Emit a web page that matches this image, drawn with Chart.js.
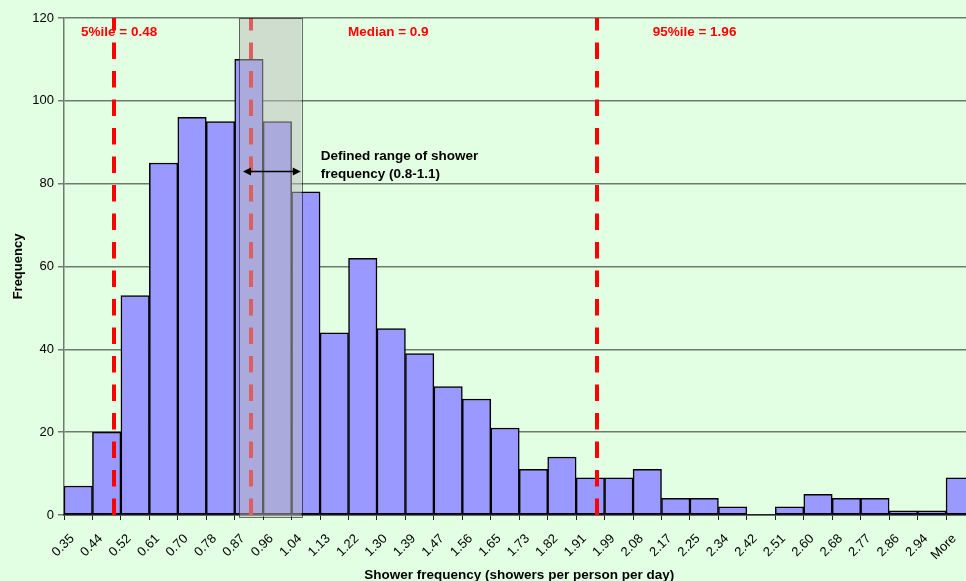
<!DOCTYPE html>
<html>
<head>
<meta charset="utf-8">
<script src="https://cdn.jsdelivr.net/npm/chart.js@4"></script>
<style>
  html, body { margin: 0; padding: 0; overflow: hidden; background: #E3FFE3; }
  #wrap { width: 976px; height: 581px; }
</style>
</head>
<body>
<div id="wrap"><canvas id="hist"></canvas></div>
<script>
// Histogram bins (upper bin labels) and counts
const binLabels = [
  "0.35", "0.44", "0.52", "0.61", "0.70", "0.78", "0.87", "0.96", "1.04", "1.13",
  "1.22", "1.30", "1.39", "1.47", "1.56", "1.65", "1.73", "1.82", "1.91", "1.99",
  "2.08", "2.17", "2.25", "2.34", "2.42", "2.51", "2.60", "2.68", "2.77", "2.86",
  "2.94", "More"
];
const frequencies = [
  7, 20, 53, 85, 96, 95, 110, 95, 78, 44,
  62, 45, 39, 31, 28, 21, 11, 14, 9, 9,
  11, 4, 4, 2, 0, 2, 5, 4, 4, 1,
  1, 9
];
const yTicks = [0, 20, 40, 60, 80, 100, 120];

// Annotation positions: x in bin-edge units (0 = left edge of first bin), y in frequency
const percentileLines = [
  { label: "5%ile = 0.48", at: 1.76, textAt: 0.6 },
  { label: "Median = 0.9", at: 6.57, textAt: 9.98 },
  { label: "95%ile = 1.96", at: 18.73, textAt: 20.69 }
];
const labelY = 116.6;
const rangeBox = { from: 6.15, to: 8.35 };
const rangeArrow = { from: 6.29, to: 8.32, y: 83.1 };
const rangeText = ["Defined range of shower", "frequency (0.8-1.1)"];
const rangeTextPos = { at: 9.02, y1: 86.7, y2: 82.3 };

const FONT = "'Liberation Sans', Arial, sans-serif";

const annotations = {
  id: "annotations",
  afterDatasetsDraw(chart) {
    const ctx = chart.ctx;
    const x = chart.scales.x;
    const y = chart.scales.y;
    const xAt = (u) => x.getPixelForValue(u - 0.5);
    const bottom = y.getPixelForValue(0);
    const top = y.getPixelForValue(120);

    ctx.save();
    // dashed percentile lines, drawn from the axis upwards
    ctx.strokeStyle = "#FF0000";
    ctx.lineWidth = 4;
    ctx.setLineDash([16.5, 12]);
    percentileLines.forEach((p) => {
      const px = Math.round(xAt(p.at));
      ctx.beginPath();
      ctx.moveTo(px, bottom);
      ctx.lineTo(px, top);
      ctx.stroke();
    });
    ctx.setLineDash([]);

    // shaded defined range box
    const bx1 = xAt(rangeBox.from);
    const bx2 = xAt(rangeBox.to);
    const by1 = top;
    const by2 = y.getPixelForValue(-0.5);
    ctx.fillStyle = "rgba(188,188,188,0.5)";
    ctx.fillRect(bx1, by1, bx2 - bx1, by2 - by1);
    ctx.strokeStyle = "rgba(0,0,0,0.55)";
    ctx.lineWidth = 1;
    ctx.strokeRect(Math.round(bx1) + 0.5, Math.round(by1) + 0.5, Math.round(bx2 - bx1), Math.round(by2 - by1));

    // double headed arrow
    const ax1 = xAt(rangeArrow.from);
    const ax2 = xAt(rangeArrow.to);
    const ay = Math.round(y.getPixelForValue(rangeArrow.y)) + 0.5;
    ctx.strokeStyle = "#000";
    ctx.fillStyle = "#000";
    ctx.lineWidth = 1.4;
    ctx.beginPath();
    ctx.moveTo(ax1 + 4, ay);
    ctx.lineTo(ax2 - 4, ay);
    ctx.stroke();
    ctx.beginPath();
    ctx.moveTo(ax1, ay);
    ctx.lineTo(ax1 + 8, ay - 4);
    ctx.lineTo(ax1 + 8, ay + 4);
    ctx.closePath();
    ctx.fill();
    ctx.beginPath();
    ctx.moveTo(ax2, ay);
    ctx.lineTo(ax2 - 8, ay - 4);
    ctx.lineTo(ax2 - 8, ay + 4);
    ctx.closePath();
    ctx.fill();

    // texts
    ctx.font = "bold 13.5px " + FONT;
    ctx.textAlign = "left";
    ctx.textBaseline = "middle";
    ctx.fillStyle = "#FF0000";
    percentileLines.forEach((p) => {
      ctx.fillText(p.label, xAt(p.textAt), y.getPixelForValue(labelY));
    });
    ctx.fillStyle = "#000";
    ctx.fillText(rangeText[0], xAt(rangeTextPos.at), y.getPixelForValue(rangeTextPos.y1));
    ctx.fillText(rangeText[1], xAt(rangeTextPos.at), y.getPixelForValue(rangeTextPos.y2));
    ctx.restore();
  }
};

const ctx = document.getElementById("hist").getContext("2d");
new Chart(ctx, {
  type: "bar",
  data: {
    labels: binLabels,
    datasets: [
      {
        label: "Frequency",
        data: frequencies,
        backgroundColor: "#9999FF",
        borderColor: "#000000",
        borderWidth: 1.5,
        borderSkipped: false,
        barPercentage: 1,
        categoryPercentage: 1,
      },
    ],
  },
  options: {
    responsive: true,
    maintainAspectRatio: false,
    animation: false,
    layout: { padding: { top: 18, left: 0, right: 1.5, bottom: 0 } },
    plugins: { legend: { display: false }, tooltip: { enabled: false } },
    scales: {
      y: {
        min: 0,
        max: 120,
        afterBuildTicks: (scale) => {
          scale.ticks = yTicks.map((v) => ({ value: v }));
        },
        afterFit: (scale) => { scale.width = 64; },
        ticks: { color: "#000", font: { family: FONT, size: 13 }, padding: 4 },
        grid: { color: "#6f7a6f", lineWidth: 1.5, tickLength: 6 },
        border: { color: "#6f7a6f", width: 1.5 },
        title: {
          display: true,
          text: "Frequency",
          color: "#000",
          font: { family: FONT, size: 13, weight: "bold" },
          padding: { top: 11, bottom: 0 },
        },
      },
      x: {
        offset: true,
        afterFit: (scale) => {
          scale.height = 66;
          scale.paddingLeft = 0;
          scale.paddingRight = 0;
        },
        ticks: {
          color: "#000",
          font: { family: FONT, size: 13 },
          autoSkip: false,
          minRotation: 45,
          maxRotation: 45,
          labelOffset: -6,
          padding: 11,
        },
        grid: { offset: true, drawOnChartArea: false, color: "#222", tickLength: 5, lineWidth: 1 },
        border: { color: "#222", width: 1.5 },
        title: {
          display: true,
          text: "Shower frequency (showers per person per day)",
          color: "#000",
          font: { family: FONT, size: 13.5, weight: "bold" },
          padding: { top: 0, bottom: -2 },
        },
      },
    },
  },
  plugins: [annotations],
});
</script>
</body>
</html>
